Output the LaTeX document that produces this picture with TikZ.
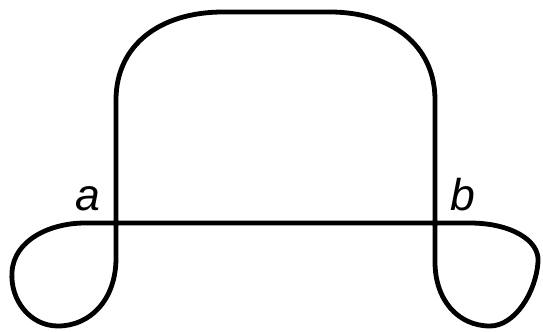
\documentclass[tikz,border=0pt]{standalone}
\usepackage{fontspec}
\setmainfont{Liberation Sans}
\usepackage{tikz}

\begin{document}
\begin{tikzpicture}[x=0.03cm, y=-0.03cm, curve/.style={line width=4.1pt, line join=round}, lbl/.style={font=\fontsize{38}{42}\selectfont\itshape, inner sep=0pt, anchor=base}]
\useasboundingbox (0,0) rectangle (543,331);
\coordinate (la) at (116,223);
\coordinate (lb) at (435,223);
\node (a) [lbl] at (88,210) {a};
\node (b) [lbl] at (463,210) {b};

\draw[curve] (85,223) -- (470,223)
  .. controls (510,223) and (540,240) .. (538,262)
  .. controls (536,292) and (515,326) .. (490,326)
  .. controls (458,326) and (435,300) .. (435,262)
  -- (435,100)
  .. controls (435,45) and (391,12) .. (330,12)
  -- (223,12)
  .. controls (160,12) and (116,45) .. (116,100)
  -- (116,258)
  .. controls (116,300) and (90,326) .. (58,326)
  .. controls (30,326) and (10,300) .. (12,272)
  .. controls (14,240) and (50,223) .. cycle;
\end{tikzpicture}
\end{document}
